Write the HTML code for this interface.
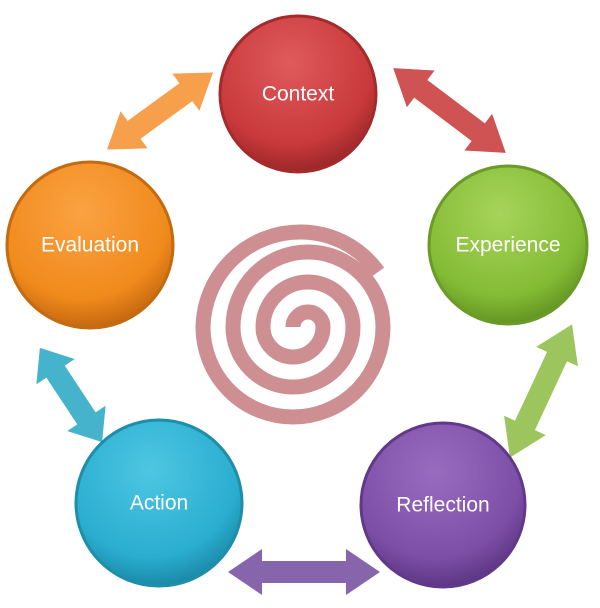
<!DOCTYPE html>
<html><head><style>
html,body{margin:0;padding:0;background:#fff;}
svg{display:block}
text{font-family:"Liberation Sans",sans-serif;fill:#fff;font-size:21px;text-anchor:middle;dominant-baseline:middle}
</style></head><body>
<svg width="600" height="608" viewBox="0 0 600 608" xmlns="http://www.w3.org/2000/svg">
<defs>
<radialGradient id="gr" cx="45%" cy="30%" r="75%"><stop offset="0" stop-color="#e05a5c"/><stop offset="0.7" stop-color="#c8393b"/><stop offset="1" stop-color="#8e2224"/></radialGradient>
<radialGradient id="gg" cx="45%" cy="30%" r="75%"><stop offset="0" stop-color="#a6d45a"/><stop offset="0.7" stop-color="#84bb35"/><stop offset="1" stop-color="#5a8a1e"/></radialGradient>
<radialGradient id="go" cx="45%" cy="30%" r="75%"><stop offset="0" stop-color="#fba243"/><stop offset="0.7" stop-color="#f08a1c"/><stop offset="1" stop-color="#b85e0c"/></radialGradient>
<radialGradient id="gb" cx="45%" cy="30%" r="75%"><stop offset="0" stop-color="#4ec6e2"/><stop offset="0.7" stop-color="#2aaed0"/><stop offset="1" stop-color="#177f9c"/></radialGradient>
<radialGradient id="gp" cx="45%" cy="30%" r="75%"><stop offset="0" stop-color="#9a6cc0"/><stop offset="0.7" stop-color="#7c4ea6"/><stop offset="1" stop-color="#55307a"/></radialGradient>
</defs>

<!-- arrows -->
<g transform="translate(449.5,110.5) rotate(37)"><polygon fill="#cf5352" points="-70.5,0 -36,-23 -36,-11 36,-11 36,-23 70.5,0 36,23 36,11 -36,11 -36,23"/></g>
<g transform="translate(160,111) rotate(-36)"><polygon fill="#f7a04c" points="-65.5,0 -32,-23 -32,-11 32,-11 32,-23 65.5,0 32,23 32,11 -32,11 -32,23"/></g>
<g transform="translate(541,391) rotate(-65)"><polygon fill="#9cc55d" points="-73.5,0 -38,-23 -38,-11 38,-11 38,-23 73.5,0 38,23 38,11 -38,11 -38,23"/></g>
<g transform="translate(71,395) rotate(56.6)"><polygon fill="#46b3cc" points="-56.5,0 -28,-23 -28,-11 28,-11 28,-23 56.5,0 28,23 28,11 -28,11 -28,23"/></g>
<g transform="translate(304,572)"><polygon fill="#8765ad" points="-76,0 -42,-23 -42,-11 42,-11 42,-23 76,0 42,23 42,11 -42,11 -42,23"/></g>

<!-- spiral -->
<path d="M293,327 A15,15 0 0 1 308,312 A15,15 0 0 1 323,327 A30,30 0 0 1 293,357 A30,30 0 0 1 263,327 A45,45 0 0 1 308,282 A45,45 0 0 1 353,327 A60,60 0 0 1 293,387 A60,60 0 0 1 233,327 A75,75 0 0 1 308,252 A75,75 0 0 1 383,327 A90,90 0 0 1 293,417 A90,90 0 0 1 203,327 A97,97 0 0 1 300,232 A95,95 0 0 1 378,272" fill="none" stroke="#c07376" stroke-opacity="0.8" stroke-width="15"/>

<!-- circles -->
<circle cx="298" cy="94" r="78" fill="url(#gr)" stroke="#a52a2c" stroke-width="3"/>
<text x="298" y="95">Context</text>
<circle cx="508" cy="245" r="79" fill="url(#gg)" stroke="#6a9a28" stroke-width="3"/>
<text x="508" y="246">Experience</text>
<circle cx="90" cy="245" r="83" fill="url(#go)" stroke="#c46a10" stroke-width="3"/>
<text x="90" y="246">Evaluation</text>
<circle cx="159" cy="503" r="83" fill="url(#gb)" stroke="#1e8eaa" stroke-width="3"/>
<text x="159" y="504">Action</text>
<circle cx="443" cy="505" r="82" fill="url(#gp)" stroke="#62398a" stroke-width="3"/>
<text x="443" y="506">Reflection</text>
</svg>
</body></html>
